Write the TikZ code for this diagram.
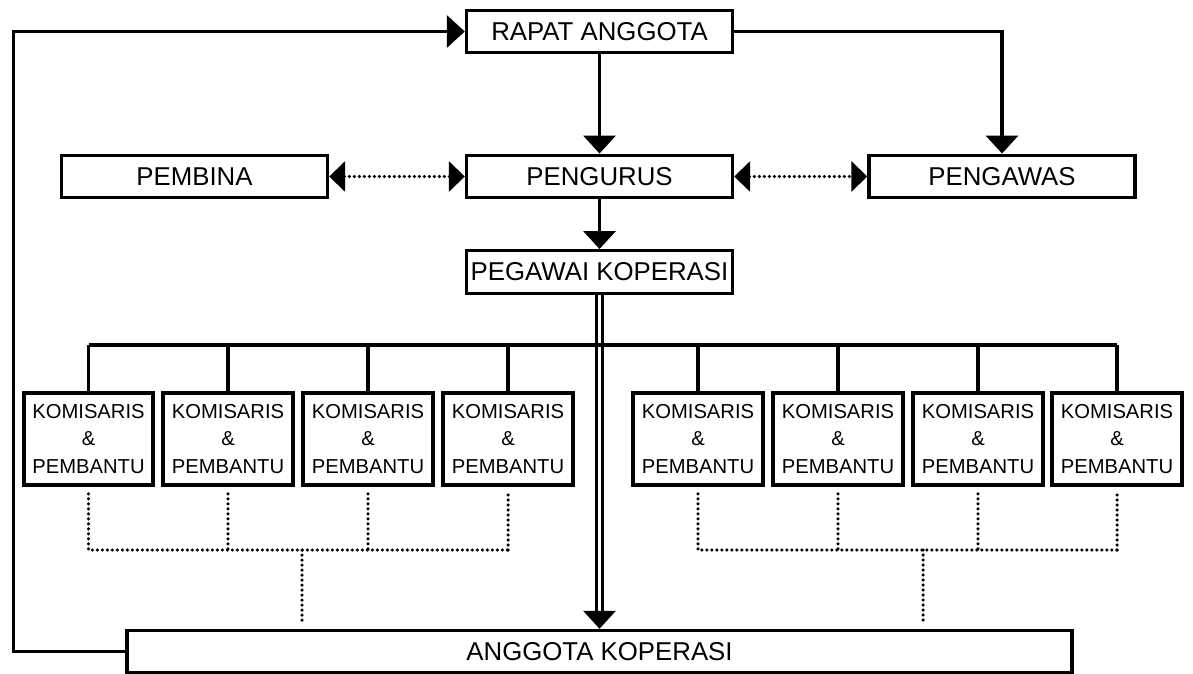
\documentclass[tikz,border=0pt]{standalone}
\usepackage{fontspec}
\setmainfont{Liberation Sans}
\usepackage{tikz}
\usetikzlibrary{arrows.meta}

\tikzset{
	unit/.style = {draw, line width=3.4pt, minimum width=266pt, minimum height=42.5pt, inner sep=0pt, font=\fontsize{25.8}{28}\selectfont},
	kombox/.style = {draw, line width=4.2pt, minimum width=129.5pt, minimum height=91.5pt, inner sep=0pt, align=center, font=\fontsize{20.2}{27.5}\selectfont},
	link/.style = {line width=3.4pt},
	arr/.style = {line width=3.4pt, -{Triangle[length=18pt,width=32pt]}},
	dotlink/.style = {line width=3.5pt, line cap=round, dash pattern=on 0pt off 5pt},
	dotarr/.style = {dotlink, {Triangle[length=16pt,width=30pt]}-{Triangle[length=16pt,width=30pt]}}
}

\begin{document}
\begin{tikzpicture}[x=1pt,y=-1pt]
	\useasboundingbox (0,0) rectangle (1193,674);
	\node[unit] (rapat) at (599.5,31.5) {RAPAT ANGGOTA};
	\node[unit] (pembina) at (194.5,176.5) {PEMBINA};
	\node[unit] (pengurus) at (599.5,176.5) {PENGURUS};
	\node[unit] (pengawas) at (1002,176.5) {PENGAWAS};
	\node[unit] (pegawai) at (599.5,272) {PEGAWAI KOPERASI};
	\node[unit, minimum width=945pt, minimum height=42pt] (anggota) at (599.5,651.5) {ANGGOTA KOPERASI};
	\node[kombox] (k1) at (88.5,439) {KOMISARIS\\\&\\PEMBANTU};
	\node[kombox] (k2) at (228,439) {KOMISARIS\\\&\\PEMBANTU};
	\node[kombox] (k3) at (368,439) {KOMISARIS\\\&\\PEMBANTU};
	\node[kombox] (k4) at (508,439) {KOMISARIS\\\&\\PEMBANTU};
	\node[kombox] (k5) at (698,439) {KOMISARIS\\\&\\PEMBANTU};
	\node[kombox] (k6) at (838,439) {KOMISARIS\\\&\\PEMBANTU};
	\node[kombox] (k7) at (978,439) {KOMISARIS\\\&\\PEMBANTU};
	\node[kombox] (k8) at (1117,439) {KOMISARIS\\\&\\PEMBANTU};
	\coordinate (bus) at (0,345);
	\coordinate (jl) at (302,550);
	\coordinate (jr) at (923,550);

	\draw[arr] (rapat) -- (pengurus);
	\draw[arr] (pengurus) -- (pegawai);
	\draw[arr] (rapat.east) -| (pengawas.north);
	\draw[arr] (anggota.west) -- ++(-112,0) |- (rapat.west);
	\draw[dotarr] (pembina.east) -- (pengurus.west);
	\draw[dotarr] (pengurus.east) -- (pengawas.west);

	\draw[line width=3pt, double, double distance=2.6pt] (pegawai.south) -- ([yshift=16pt]pegawai.south |- anggota.north);
	\draw[arr] ([yshift=17pt]pegawai.south |- anggota.north) -- (pegawai.south |- anggota.north);

	\draw[link] (k1.north |- bus) -- (k8.north |- bus);
	\foreach \k in {k1,k2,k3,k4,k5,k6,k7,k8}
		\draw[link] (\k.north |- bus) -- (\k.north);

	\draw[dotlink, shorten <=7pt] (k1.south) |- (k4.south |- jl);
	\draw[dotlink, shorten >=7pt] (k4.south |- jl) -- (k4.south);
	\draw[dotlink, shorten <=7pt] (k2.south) -- (k2.south |- jl);
	\draw[dotlink, shorten <=7pt] (k3.south) -- (k3.south |- jl);
	\draw[dotlink, shorten >=7pt] (jl) -- (jl |- anggota.north);
	\draw[dotlink, shorten <=7pt] (k5.south) |- (k8.south |- jr);
	\draw[dotlink, shorten >=7pt] (k8.south |- jr) -- (k8.south);
	\draw[dotlink, shorten <=7pt] (k6.south) -- (k6.south |- jr);
	\draw[dotlink, shorten <=7pt] (k7.south) -- (k7.south |- jr);
	\draw[dotlink, shorten >=7pt] (jr) -- (jr |- anggota.north);
\end{tikzpicture}
\end{document}
